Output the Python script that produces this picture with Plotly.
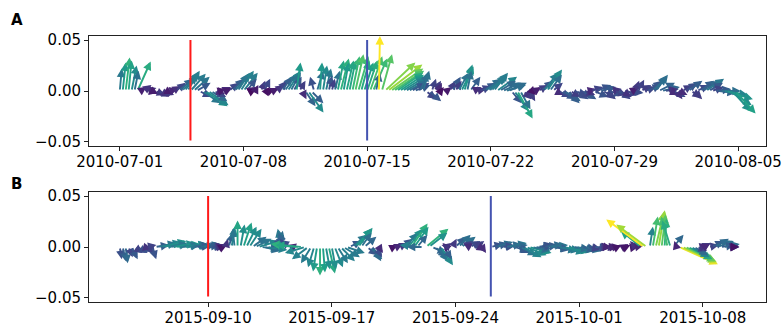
import numpy as np
import pandas as pd
import plotly.graph_objects as go
from plotly.colors import sample_colorscale

# ---- data (velocity components, units of 1e-3, 4-hourly, one row per day) ----
U_A = [
    2, 3, 4, 3, 5, 4,
    13, 6, 8, 10, 8, 6,
    10, 12, 8, 10, 6, 8,
    8, 10, 14, 16, 14, 12,
    15, 16, 14, 12, 18, 22,
    20, 16, 12, 8, 6, 8,
    6, 10, 12, 14, 12, 13,
    14, 10, 6, 4, 3, 2,
    4, 6, 3, 5, 6, 8,
    8, 10, 12, 13, 10, 8,
    4, 6, 4, 10, 15, 12,
    -4, 6, 2, 4, 5, 3,
    3, 5, 6, 8, 5, 7,
    6, 7, 8, 10, 8, 9,
    10, 12, 14, 4, 1, 10,
    30, 34, 32, 30, 26, 24,
    22, 20, 18, 14, 16, 12,
    8, 6, 10, 12, 4, 6,
    4, 3, 2, 5, 6, 8,
    6, 10, 12, 8, 4, 10,
    8, 10, 12, 14, 16, 18,
    16, 14, 20, 16, 18, 20,
    18, 10, 14, 15, 10, 8,
    8, 6, 4, 6, 10, 12,
    14, 15, 12, 10, 8, 12,
    14, 16, 12, 10, 14, 12,
    12, 14, 10, 8, 12, 14,
    14, 16, 12, 10, 14, 10,
    12, 14, 10, 8, 12, 14,
    6, 4, 6, 10, 12, 14,
    12, 14, 12, 16, 18, 14,
    10, 8, 12, 6, 8, 10,
    12, 14, 10, 8, 12, 14,
    16, 18, 14, 12, 16, 18,
    20, 24, 26, 22, 18, 20,
]
V_A = [
    22, 28, 33, 30, 25, 20,
    29, 4, 6, 3, -2, -3,
    -4, -5, -6, -4, -3, 2,
    5, 8, 12, 15, 18, 20,
    17, 14, 8, -6, -12, -15,
    -14, -10, -6, -3, 2, 4,
    3, 8, 12, 16, 18, 20,
    18, 12, 4, 2, 6, 3,
    10, 12, 4, 2, 3, 6,
    10, 14, 17, 20, 18, 14,
    28, 10, -8, -15, -21, -12,
    14, 20, 28, 25, 22, 15,
    12, 20, 30, 32, 28, 30,
    30, 34, 36, 34, 30, 28,
    30, 34, 32, 18, 54, 36,
    28, 26, 22, 20, 18, 16,
    14, 12, 10, 8, 6, 8,
    18, 20, -8, -10, 12, 10,
    8, 4, 2, 4, 10, 14,
    10, 18, 24, 26, 20, 14,
    4, 2, 5, 8, 12, 14,
    16, 18, 14, 10, 8, 6,
    8, -12, -20, -27, -18, -8,
    -6, -10, -4, 4, 6, 10,
    18, 21, 16, 8, -4, -6,
    -8, -10, -12, -6, -4, -8,
    -6, -8, -4, 2, 4, -6,
    6, 4, -6, -8, -4, 2,
    -4, -6, -8, -6, -4, -2,
    4, 10, 11, 6, 4, 6,
    10, 14, 16, 8, 4, 2,
    2, -4, -6, -8, -4, 6,
    8, 10, -6, -8, 6, 10,
    10, 12, 8, 4, 2, -2,
    0, -4, -8, -14, -20, -22,
]
U_B = [
    2, 3, 2, 4, 6, 8,
    10, 12, 8, 10, 6, 4,
    14, 18, 20, 22, 20, 18,
    22, 24, 20, 18, 22, 20,
    18, 16, 14, 16, 18, 14,
    14, 12, 10, 8, 6, 4,
    2, 4, 3, -2, 0, 4,
    8, 10, 12, 14, 16, 20,
    18, 16, 20, 14, 10, 8,
    4, -4, -6, -8, -10, -6,
    -24, -28, -26, -20, -16, -10,
    -6, -4, 0, 2, 4, 6,
    4, 8, 10, 14, 16, 18,
    12, 14, 16, 14, 10, 12,
    10, 12, 8, 6, 4, 2,
    1, 2, 3, 4, 6, 8,
    10, 12, 14, 16, 14, 10,
    -20, -16, 22, 18, 14, 12,
    10, 12, 8, -4, -8, 4,
    10, 12, 14, 8, 6, 10,
    10, 8, 6, 4, 3, 2,
    12, 14, 16, 14, 12, 16,
    18, 16, 14, 12, 16, 18,
    20, 22, 18, 16, 14, 12,
    14, 16, 18, 16, 14, 18,
    18, 20, 22, 20, 16, 18,
    16, 14, 16, 12, 10, 14,
    12, 10, 8, 6, 8, 6,
    6, 4, 3, 5, 4, 2,
    -3, -5, -4, -20, -37, -30,
    3, 5, 8, 6, 4, 2,
    -6, -8, 10, -2, 38, 34,
    30, 24, 18, 14, 10, 8,
    8, -6, 10, 12, 14, 16,
    14, 16, 12, 10, 6, 4,
]
V_B = [
    -12, -14, -16, -10, -12, -6,
    -6, -4, -2, 2, -8, -12,
    2, 4, 5, 6, 4, 3,
    4, 3, 2, 2, 3, 2,
    3, 2, 1, 2, 3, 2,
    2, 1, 2, 1, 3, 2,
    8, 14, 20, 18, 26, 22,
    24, 20, 18, 10, 8, 6,
    -2, -4, -3, 4, 8, 12,
    16, 18, 14, 8, 6, 2,
    2, 3, 2, -6, -12, -16,
    -20, -24, -28, -25, -22, -26,
    -22, -20, -16, -14, -10, -6,
    6, 12, 18, 19, 14, 10,
    -8, -12, -14, -10, -6, -2,
    1, 0, 1, 2, 3, 4,
    8, 14, 18, 23, 20, 12,
    2, 0, 18, 14, -6, -10,
    -14, -18, -12, 4, 2, 8,
    10, 12, 10, 6, 4, 6,
    4, 6, -4, -6, -3, -2,
    3, 4, 5, 2, 1, 3,
    4, 2, -4, -6, -8, -10,
    -8, -6, -4, -2, 2, 3,
    2, 3, 2, -2, -3, -4,
    -4, -6, -5, -3, -2, -4,
    -3, -2, -4, -3, -2, -1,
    -1, 0, 1, -1, -2, 1,
    1, 2, 1, 3, 2, 1,
    4, 6, 5, 16, 27, 22,
    20, 30, 34, 36, 32, 28,
    30, 26, 12, 6, -17, -15,
    -14, -12, -10, -8, -4, 2,
    4, 3, 2, 6, 8, 6,
    2, 3, 1, 0, 1, 0,
]
VALUE_SCALE = 0.001
START_A = "2010-07-01"
START_B = "2015-09-05"
STEP_HOURS = 4
X_TICK0_A = "2010-07-01"
X_TICK0_B = "2015-09-10"
RED_DATES = ["2010-07-05", "2015-09-10"]
BLUE_DATES = ["2010-07-15", "2015-09-26"]
Y_TICKS = [-0.05, 0.0, 0.05]
# colour normalisation range (speed) for each panel
CRANGE_A = [0.003, 0.050]
CRANGE_B = [0.002, 0.043]

# ---- layout geometry ----
W, H = 783, 327
XDOM = [89 / W, 766 / W]
YDOM_A = [1 - 146 / H, 1 - 36 / H]
YDOM_B = [1 - 302 / H, 1 - 192 / H]
YR = [-0.054, 0.054]
FONT = "DejaVu Sans"

fig = go.Figure()
annotations = []


def panel(U, V, start, xname, yname, ydom, red, blue, crange):
    t = pd.date_range(start, periods=len(U), freq=f"{STEP_HOURS}h")
    u = np.array(U) * VALUE_SCALE
    v = np.array(V) * VALUE_SCALE
    span = (t[-1] - t[0])
    pad = span * 0.05
    xr = [t[0] - pad, t[-1] + pad]
    range_days = (xr[1] - xr[0]).total_seconds() / 86400
    px_per_day = (XDOM[1] - XDOM[0]) * W / range_days
    px_per_unit = (ydom[1] - ydom[0]) * H / (YR[1] - YR[0])
    mag = np.hypot(u, v)
    norm = np.clip((mag - crange[0]) / (crange[1] - crange[0]), 0, 1)
    cols = sample_colorscale("Viridis", list(norm))
    fig.add_trace(go.Scatter(x=t, y=np.zeros(len(t)), mode="markers",
                             marker=dict(opacity=0), hoverinfo="skip",
                             showlegend=False, xaxis=xname, yaxis=yname))
    for ti, ui, vi, c in zip(t, u, v, cols):
        head = ti + pd.Timedelta(days=ui * px_per_unit / px_per_day)
        annotations.append(dict(
            x=head.isoformat(), y=vi, ax=ti.isoformat(), ay=0,
            xref=xname, yref=yname, axref=xname, ayref=yname,
            showarrow=True, arrowhead=2, arrowsize=0.9, arrowwidth=1.9,
            arrowcolor=c, text="", standoff=0, startstandoff=0))
    for d, col in ((red, "#ff1a1a"), (blue, "#4453b0")):
        annotations.append(dict(
            x=d, y=0.05, ax=d, ay=-0.05, xref=xname, yref=yname,
            axref=xname, ayref=yname, showarrow=True, arrowhead=0,
            arrowwidth=2, arrowcolor=col, text="", standoff=0,
            startstandoff=0))
    return xr


xrA = panel(U_A, V_A, START_A, "x", "y", YDOM_A, RED_DATES[0], BLUE_DATES[0], CRANGE_A)
xrB = panel(U_B, V_B, START_B, "x2", "y2", YDOM_B, RED_DATES[1], BLUE_DATES[1], CRANGE_B)

axis_common = dict(showgrid=False, zeroline=False, showline=True, mirror=True,
                   linecolor="#222", linewidth=1, ticks="outside", ticklen=4,
                   tickcolor="#222", automargin=False,
                   tickfont=dict(family=FONT, size=15, color="black"))

for lbl, y in (("A", 20), ("B", 184)):
    annotations.append(dict(text=f"<b>{lbl}</b>", x=9 / W, y=1 - y / H,
                            xref="paper", yref="paper", xanchor="left",
                            yanchor="middle", showarrow=False,
                            font=dict(family=FONT, size=15, color="black")))

xtick = dict(type="date", dtick=7 * 86400000, tickformat="%Y-%m-%d",
             ticklabelstandoff=-2, ticklabeloverflow="allow")

fig.update_layout(
    width=W, height=H, margin=dict(l=0, r=0, t=0, b=0),
    paper_bgcolor="white", plot_bgcolor="white", showlegend=False,
    xaxis=dict(domain=XDOM, anchor="y", range=xrA, tick0=X_TICK0_A,
               **xtick, **axis_common),
    yaxis=dict(domain=YDOM_A, anchor="x", range=YR, tickvals=Y_TICKS,
               tickformat=".2f", **axis_common),
    xaxis2=dict(domain=XDOM, anchor="y2", range=xrB, tick0=X_TICK0_B,
                **xtick, **axis_common),
    yaxis2=dict(domain=YDOM_B, anchor="x2", range=YR, tickvals=Y_TICKS,
                tickformat=".2f", **axis_common),
    annotations=annotations,
)

fig.write_html(
    "out.html",
    config={"displayModeBar": False},
    post_script="document.body.style.margin='0';"
                "document.body.style.overflow='hidden';",
)
